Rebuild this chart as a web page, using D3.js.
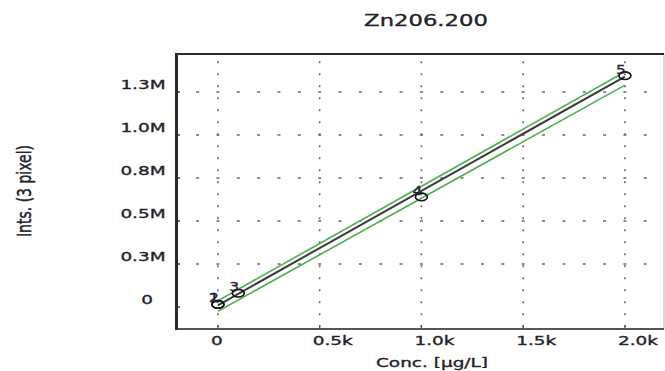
<!DOCTYPE html>
<html>
<head>
<meta charset="utf-8">
<script src="https://cdn.jsdelivr.net/npm/d3@7"></script>
<style>
  html, body { margin: 0; padding: 0; background: #fff; }
  svg { display: block; }
  text { font-family: "DejaVu Sans", Verdana, sans-serif; fill: #23232b; stroke: #23232b; stroke-width: 0.35; }
</style>
</head>
<body>
<svg id="chart" width="665" height="371"></svg>
<script>
// Calibration standards for Zn 206.200 nm
const stdIds   = ["1", "2", "3", "4", "5"];
const stdConc  = [0, 0, 100, 1000, 2000];                 // µg/L
const stdInts  = [15000, 15000, 80000, 640000, 1345000];  // counts

// Calibration line and its confidence band (end points)
const fitConc   = [0, 2000];
const fitInts   = [10000, 1340000];
const upperConc = [-10, 1975];
const upperInts = [30000, 1350000];
const lowerConc = [0, 2000];
const lowerInts = [-25000, 1290000];

// Axis ticks and labels
const xTicks      = [0, 500, 1000, 1500, 2000];
const xTickLabels = ["0", "0.5k", "1.0k", "1.5k", "2.0k"];
const yTicks      = [0, 250000, 500000, 750000, 1000000, 1250000];
const yTickLabels = ["0", "0.3M", "0.5M", "0.8M", "1.0M", "1.3M"];

const chartTitle = "Zn206.200";
const xTitle = "Conc. [µg/L]";
const yTitle = "Ints. (3 pixel)";

const svg = d3.select("#chart");
const box = { left: 176, right: 664, top: 54, bottom: 329 };
const stretch = 1.42;   // wide lettering used throughout the chart

const x = d3.scaleLinear().domain([-206, 2192]).range([box.left, box.right]);
const y = d3.scaleLinear().domain([-128000, 1471000]).range([box.bottom, box.top]);

// ---- grid ----
const grid = svg.append("g").attr("stroke", "#6a6a6a").attr("stroke-width", 1.6);

// horizontal grid: short dashes every 100 µg/L
const hPeriod = x(100) - x(0);
const hDash = 3;
const hStart = (x(0) - box.left) % hPeriod;
grid.selectAll("line.h").data(yTicks.slice(1)).join("line")
  .attr("class", "h")
  .attr("x1", box.left).attr("x2", box.right)
  .attr("y1", d => y(d)).attr("y2", d => y(d))
  .attr("stroke-dasharray", `${hDash} ${hPeriod - hDash}`)
  .attr("stroke-dashoffset", hDash / 2 - hStart);

// vertical grid: dots
const vPeriod = 12;
const vDash = 2;
const vStart = 8.3;
grid.selectAll("line.v").data(xTicks).join("line")
  .attr("class", "v")
  .attr("x1", d => x(d)).attr("x2", d => x(d))
  .attr("y1", box.top).attr("y2", box.bottom)
  .attr("stroke-dasharray", `${vDash} ${vPeriod - vDash}`)
  .attr("stroke-dashoffset", vDash / 2 - vStart);

// ---- frame ----
const frame = svg.append("g").attr("fill", "none");
frame.append("line").attr("x1", box.right).attr("x2", box.right)
  .attr("y1", box.top).attr("y2", box.bottom)
  .attr("stroke", "#b5b5b5").attr("stroke-width", 1);
frame.append("line").attr("x1", box.left).attr("x2", box.right)
  .attr("y1", box.top).attr("y2", box.top)
  .attr("stroke", "#2a2a2a").attr("stroke-width", 2);
frame.append("line").attr("x1", box.left).attr("x2", box.right)
  .attr("y1", box.bottom).attr("y2", box.bottom)
  .attr("stroke", "#555").attr("stroke-width", 2);
frame.append("line").attr("x1", box.left + 0.5).attr("x2", box.left + 0.5)
  .attr("y1", box.top - 1).attr("y2", box.bottom + 1)
  .attr("stroke", "#2a2a2a").attr("stroke-width", 3);

// small tick marks on the frame
frame.selectAll("line.yt").data(yTicks).join("line")
  .attr("x1", box.left).attr("x2", box.left + 4)
  .attr("y1", d => y(d)).attr("y2", d => y(d))
  .attr("stroke", "#2a2a2a").attr("stroke-width", 1.2);
frame.selectAll("line.xt").data(xTicks).join("line")
  .attr("x1", d => x(d)).attr("x2", d => x(d))
  .attr("y1", box.bottom).attr("y2", box.bottom - 4)
  .attr("stroke", "#555").attr("stroke-width", 1.2);

// ---- tick labels ----
const wide = (sel, px, py, sx) =>
  sel.attr("transform", `translate(${px},${py}) scale(${sx},1)`);

svg.append("g").selectAll("text").data(xTicks).join("text")
  .attr("font-size", 13)
  .attr("text-anchor", "start")
  .each(function(d, i) { wide(d3.select(this), x(d) - 7, 345, stretch); })
  .text((d, i) => xTickLabels[i]);

svg.append("g").selectAll("text").data(yTicks).join("text")
  .attr("font-size", 13)
  .attr("text-anchor", "middle")
  .each(function(d, i) { wide(d3.select(this), i === 0 ? 147 : 143, y(d) - 3, stretch); })
  .text((d, i) => yTickLabels[i]);

// ---- titles ----
wide(svg.append("text"), 426, 26, stretch)
  .attr("font-size", 16).attr("text-anchor", "middle").text(chartTitle);
wide(svg.append("text"), 432, 367, stretch)
  .attr("font-size", 13).attr("text-anchor", "middle").text(xTitle);
svg.append("text")
  .attr("transform", `translate(31,191) scale(${stretch},1) rotate(-90)`)
  .attr("font-size", 14).attr("stroke-width", 0.5)
  .attr("text-anchor", "middle").text(yTitle);

// ---- calibration line and band ----
const line = d3.line().x(d => x(d[0])).y(d => y(d[1]));
const plot = svg.append("g").attr("fill", "none");
plot.append("path").datum(d3.zip(upperConc, upperInts)).attr("d", line)
  .attr("stroke", "#4cb04c").attr("stroke-width", 1.6);
plot.append("path").datum(d3.zip(lowerConc, lowerInts)).attr("d", line)
  .attr("stroke", "#4cb04c").attr("stroke-width", 1.6);
plot.append("path").datum(d3.zip(fitConc, fitInts)).attr("d", line)
  .attr("stroke", "#3a3a3a").attr("stroke-width", 2);

// ---- standards ----
const pts = d3.range(stdIds.length).map(i => ({ id: stdIds[i], c: stdConc[i], v: stdInts[i] }));
const marks = svg.append("g");
marks.selectAll("ellipse").data(pts).join("ellipse")
  .attr("cx", d => x(d.c)).attr("cy", d => y(d.v))
  .attr("rx", 6).attr("ry", 3.8)
  .attr("fill", "none").attr("stroke", "#111").attr("stroke-width", 1.6);
marks.selectAll("text").data(pts).join("text")
  .attr("font-size", 13)
  .attr("text-anchor", "middle")
  .attr("fill", (d, i) => i === 0 ? "#c8782e" : "#1e1e1e")
  .attr("stroke", (d, i) => i === 0 ? "#c8782e" : "#1e1e1e")
  .attr("stroke-width", 0.6)
  .each(function(d) { wide(d3.select(this), x(d.c) - 4, y(d.v) - 2, 1.2); })
  .text(d => d.id);
</script>
</body>
</html>
